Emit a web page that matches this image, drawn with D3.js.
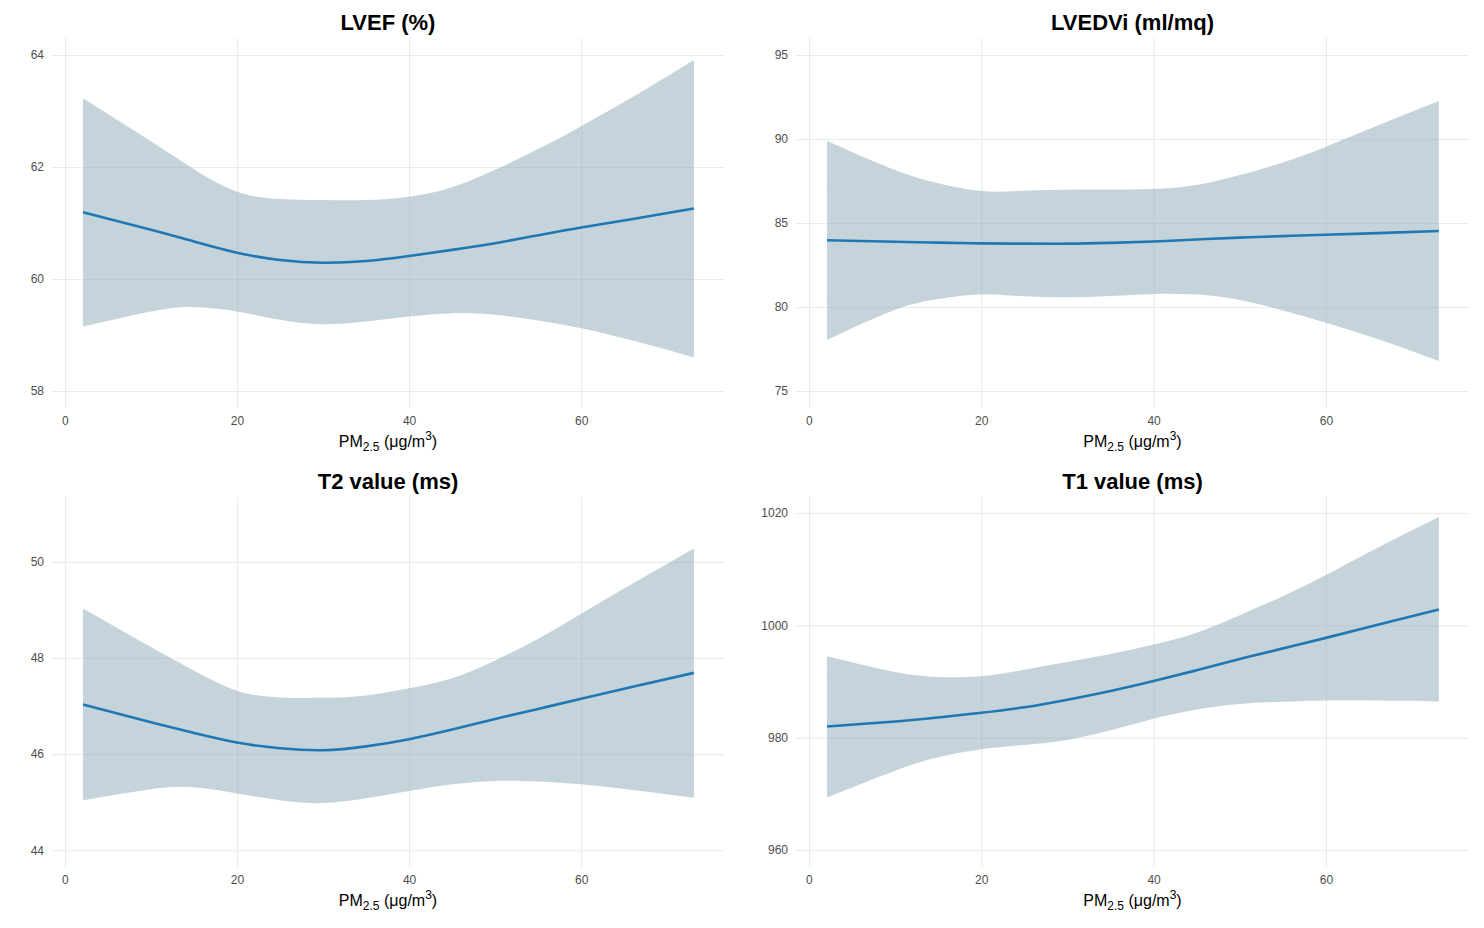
<!DOCTYPE html>
<html>
<head>
<meta charset="utf-8">
<script src="https://cdn.jsdelivr.net/npm/d3@7/dist/d3.min.js"></script>
<style>
  html, body { margin: 0; padding: 0; background: #ffffff; }
  svg { display: block; }
  text { font-family: "Liberation Sans", Arial, Helvetica, sans-serif; }
</style>
</head>
<body>
<svg id="chart" width="1484" height="928"></svg>
<script>
// ---------------- data ----------------
const pm25 = [2.1, 10, 15, 20, 25, 30, 35, 40, 45, 50, 55, 60, 66, 73.1];

const panelTitles = ["LVEF (%)", "LVEDVi (ml/mq)", "T2 value (ms)", "T1 value (ms)"];

const lvefFit   = [61.19, 60.88, 60.67, 60.47, 60.34, 60.29, 60.32, 60.41, 60.52, 60.64, 60.78, 60.92, 61.07, 61.26];
const lvefUpper = [63.23, 62.46, 61.96, 61.56, 61.43, 61.41, 61.41, 61.47, 61.64, 61.95, 62.32, 62.73, 63.25, 63.91];
const lvefLower = [59.15, 59.42, 59.50, 59.42, 59.27, 59.19, 59.24, 59.33, 59.39, 59.36, 59.26, 59.12, 58.90, 58.60];

const lvediFit   = [83.97, 83.88, 83.83, 83.79, 83.77, 83.77, 83.82, 83.90, 84.02, 84.13, 84.22, 84.30, 84.40, 84.52];
const lvediUpper = [89.88, 88.15, 87.36, 86.90, 86.92, 86.98, 87.00, 87.02, 87.26, 87.86, 88.60, 89.54, 90.80, 92.26];
const lvediLower = [78.04, 79.83, 80.48, 80.74, 80.64, 80.58, 80.66, 80.78, 80.74, 80.42, 79.80, 79.07, 78.10, 76.79];

const t2Fit   = [47.03, 46.66, 46.44, 46.24, 46.12, 46.08, 46.16, 46.31, 46.51, 46.73, 46.94, 47.15, 47.40, 47.69];
const t2Upper = [49.03, 48.23, 47.74, 47.32, 47.18, 47.17, 47.22, 47.37, 47.58, 47.95, 48.40, 48.92, 49.55, 50.28];
const t2Lower = [45.04, 45.27, 45.31, 45.18, 45.04, 44.98, 45.08, 45.23, 45.37, 45.44, 45.43, 45.37, 45.25, 45.09];

const t1Fit   = [981.98, 982.87, 983.60, 984.42, 985.40, 986.75, 988.30, 990.08, 992.00, 994.00, 995.90, 997.77, 1000.10, 1002.83];
const t1Upper = [994.49, 991.69, 990.80, 990.92, 992.10, 993.48, 994.90, 996.58, 998.70, 1001.82, 1005.20, 1008.97, 1013.80, 1019.28];
const t1Lower = [969.35, 974.12, 976.50, 977.93, 978.70, 979.60, 981.30, 983.36, 985.00, 986.00, 986.40, 986.63, 986.60, 986.45];

const xTicks = [0, 20, 40, 60];
const lvefTicks = [58, 60, 62, 64];
const lvediTicks = [75, 80, 85, 90, 95];
const t2Ticks = [44, 46, 48, 50];
const t1Ticks = [960, 980, 1000, 1020];

// ---------------- layout ----------------
const xDomain = [-1.5, 76.6];
const panels = [
  { title: panelTitles[0], fit: lvefFit,  upper: lvefUpper,  lower: lvefLower,  ticks: lvefTicks,  yDomain: [57.696, 64.304], x0: 52,  x1: 724,  y0: 38,  y1: 408 },
  { title: panelTitles[1], fit: lvediFit, upper: lvediUpper, lower: lvediLower, ticks: lvediTicks, yDomain: [73.99, 96.01],   x0: 796, x1: 1469, y0: 38,  y1: 408 },
  { title: panelTitles[2], fit: t2Fit,    upper: t2Upper,    lower: t2Lower,    ticks: t2Ticks,    yDomain: [43.65, 51.35],   x0: 52,  x1: 724,  y0: 497, y1: 867 },
  { title: panelTitles[3], fit: t1Fit,    upper: t1Upper,    lower: t1Lower,    ticks: t1Ticks,    yDomain: [956.96, 1022.86], x0: 796, x1: 1469, y0: 497, y1: 867 }
];

const svg = d3.select("#chart");

panels.forEach(p => {
  const x = d3.scaleLinear().domain(xDomain).range([p.x0, p.x1]);
  const y = d3.scaleLinear().domain(p.yDomain).range([p.y1, p.y0]);
  const g = svg.append("g");

  // grid lines + tick labels
  const yAxis = d3.axisLeft(y).tickValues(p.ticks).tickSize(-(p.x1 - p.x0)).tickPadding(8).tickFormat(d3.format("d"));
  const ya = g.append("g").attr("transform", `translate(${p.x0},0)`).call(yAxis);
  const xAxis = d3.axisBottom(x).tickValues(xTicks).tickSize(-(p.y1 - p.y0)).tickPadding(8).tickFormat(d3.format("d"));
  const xa = g.append("g").attr("transform", `translate(0,${p.y1})`).call(xAxis);

  [ya, xa].forEach(a => {
    a.select(".domain").remove();
    a.selectAll(".tick line").attr("stroke", "#ebebeb").attr("stroke-width", 1.1);
    a.selectAll(".tick text").attr("fill", "#4d4d4d").style("font-size", "12px");
  });

  const rows = pm25.map((v, i) => ({ x: v, fit: p.fit[i], lo: p.lower[i], hi: p.upper[i] }));

  // ribbon
  g.append("path")
    .datum(rows)
    .attr("fill", "rgb(150,176,190)")
    .attr("fill-opacity", 0.55)
    .attr("d", d3.area().curve(d3.curveNatural)
      .x(d => x(d.x)).y0(d => y(d.lo)).y1(d => y(d.hi)));

  // fit line
  g.append("path")
    .datum(rows)
    .attr("fill", "none")
    .attr("stroke", "#1f77b4")
    .attr("stroke-width", 2.6)
    .attr("d", d3.line().curve(d3.curveNatural)
      .x(d => x(d.x)).y(d => y(d.fit)));

  const cx = (p.x0 + p.x1) / 2;
  // panel title
  g.append("text")
    .attr("x", cx).attr("y", p.y0 - 8)
    .attr("text-anchor", "middle")
    .style("font-size", "22px").style("font-weight", "bold")
    .attr("fill", "#000")
    .text(p.title);

  // x axis title PM2.5 (μg/m3)
  const t = g.append("text")
    .attr("x", cx).attr("y", p.y1 + 39)
    .attr("text-anchor", "middle")
    .style("font-size", "16px")
    .attr("fill", "#000");
  t.append("tspan").text("PM");
  t.append("tspan").attr("dy", 4).style("font-size", "12px").text("2.5");
  t.append("tspan").attr("dy", -4).text(" (μg/m");
  t.append("tspan").attr("dy", -7).style("font-size", "12px").text("3");
  t.append("tspan").attr("dy", 7).text(")");
});
</script>
</body>
</html>
